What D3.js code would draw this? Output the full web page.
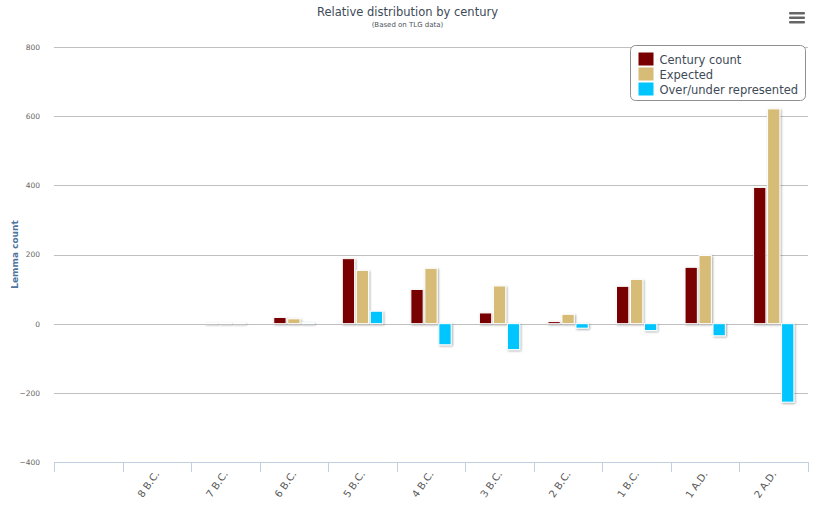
<!DOCTYPE html>
<html>
<head>
<meta charset="utf-8">
<script src="https://cdn.jsdelivr.net/npm/d3@7"></script>
<style>
  body { margin: 0; background: #fff; }
  text { font-family: "DejaVu Sans", "Lucida Grande", sans-serif; }
</style>
</head>
<body>
<script>
const width = 815;
const height = 511;
const margin = { top: 47, right: 7, bottom: 49, left: 54 };

const chartWidth = width - margin.left - margin.right;
const chartHeight = height - margin.top - margin.bottom;

// data
const categories = ["", "8 B.C.", "7 B.C.", "6 B.C.", "5 B.C.", "4 B.C.", "3 B.C.", "2 B.C.", "1 B.C.", "1 A.D.", "2 A.D."];
const centuryCount = [null, null, 2, 18, 188, 99, 31, 6, 108, 163, 394];
const expected = [null, null, 2, 14, 154, 160, 109, 27, 128, 197, 621];
const overUnder = [null, null, 1, 3, 36, -61, -75, -13, -20, -35, -227];
const yTicks = [-400, -200, 0, 200, 400, 600, 800];

const seriesNames = ["Century count", "Expected", "Over/under represented"];
const colors = ["#780000", "#d6bc76", "#00c5ff"];
const seriesValues = [centuryCount, expected, overUnder];

const data = categories.map((c, i) => ({
  cat: c,
  values: seriesValues.map((s, j) => ({ key: j, value: s[i] }))
}));

const svg = d3.select("body")
  .append("svg")
  .attr("width", width)
  .attr("height", height);

// bar shadow, in user space so very short bars still get one
const defs = svg.append("defs");
const shadow = defs.append("filter")
  .attr("id", "shadow")
  .attr("filterUnits", "userSpaceOnUse")
  .attr("x", -100).attr("y", -100)
  .attr("width", 1000).attr("height", 700);
shadow.append("feDropShadow")
  .attr("dx", 1).attr("dy", 1)
  .attr("stdDeviation", 1.1)
  .attr("flood-color", "#000")
  .attr("flood-opacity", 0.35);

// title
svg.append("text")
  .attr("x", width / 2)
  .attr("y", 16)
  .attr("text-anchor", "middle")
  .attr("fill", "#3e4a57")
  .style("font-size", "11.5px")
  .text("Relative distribution by century");

svg.append("text")
  .attr("x", width / 2)
  .attr("y", 27)
  .attr("text-anchor", "middle")
  .attr("fill", "#4d5560")
  .style("font-size", "7px")
  .text("(Based on TLG data)");

const g = svg.append("g")
  .attr("transform", `translate(${margin.left}, ${margin.top})`);

const x0 = d3.scaleBand()
  .domain(categories.map((c, i) => i))
  .range([0, chartWidth])
  .paddingInner(0.4)
  .paddingOuter(0.2);

const x1 = d3.scaleBand()
  .domain([0, 1, 2])
  .range([0, x0.bandwidth()])
  .paddingInner(0.12)
  .paddingOuter(0.03);

const y = d3.scaleLinear()
  .domain([-400, 800])
  .range([chartHeight, 0]);

// gridlines
g.append("g")
  .selectAll("line")
  .data(yTicks)
  .join("line")
    .attr("x1", 0)
    .attr("x2", chartWidth)
    .attr("y1", d => Math.round(y(d)) + 0.5)
    .attr("y2", d => Math.round(y(d)) + 0.5)
    .attr("stroke", "#c0c0c0")
    .attr("stroke-width", 1);

// y axis labels
const yAxis = d3.axisLeft(y)
  .tickValues(yTicks)
  .tickSize(0)
  .tickPadding(14)
  .tickFormat(d => d < 0 ? "\u2212" + Math.abs(d) : d);
g.append("g")
  .call(yAxis)
  .call(a => a.select(".domain").remove())
  .selectAll("text")
    .attr("fill", "#666")
    .style("font-size", "7.5px")
    .style("font-family", "'DejaVu Sans', sans-serif");

g.append("text")
  .attr("transform", `translate(-36, ${chartHeight / 2}) rotate(-90)`)
  .attr("text-anchor", "middle")
  .attr("fill", "#4d759e")
  .style("font-size", "9px")
  .style("font-weight", "bold")
  .text("Lemma count");

// x axis
const xStep = x0.step();
const xAxis = g.append("g")
  .attr("transform", `translate(0, ${chartHeight})`);
xAxis.append("line")
  .attr("x1", 0)
  .attr("x2", chartWidth)
  .attr("y1", 0.5)
  .attr("y2", 0.5)
  .attr("stroke", "#c0d0e0");
xAxis.selectAll(".tick")
  .data(d3.range(categories.length + 1))
  .join("line")
    .attr("class", "tick")
    .attr("x1", i => Math.round(i * xStep) + 0.5)
    .attr("x2", i => Math.round(i * xStep) + 0.5)
    .attr("y1", 0)
    .attr("y2", 10)
    .attr("stroke", "#c0d0e0");
xAxis.selectAll(".lab")
  .data(categories)
  .join("text")
    .attr("class", "lab")
    .attr("text-anchor", "end")
    .attr("transform", (d, i) => `translate(${x0(i) + x0.bandwidth() / 2 + 3}, 12) rotate(-55)`)
    .attr("fill", "#555")
    .style("font-size", "10px")
    .text(d => d);

// bars
const groups = g.selectAll(".group")
  .data(data)
  .join("g")
    .attr("class", "group")
    .attr("transform", (d, i) => `translate(${x0(i)}, 0)`);

groups.selectAll("rect")
  .data(d => d.values.filter(v => v.value !== null))
  .join("rect")
    .attr("x", d => x1(d.key))
    .attr("y", d => y(Math.max(0, d.value)))
    .attr("width", x1.bandwidth())
    .attr("height", d => Math.abs(y(d.value) - y(0)))
    .attr("fill", d => colors[d.key])
    .attr("stroke", "#fff")
    .attr("stroke-width", 1)
    .attr("filter", "url(#shadow)");

// legend
const legend = svg.append("g")
  .attr("transform", "translate(630.5, 45.5)");
legend.append("rect")
  .attr("width", 175)
  .attr("height", 55)
  .attr("rx", 5)
  .attr("fill", "#fff")
  .attr("stroke", "#909090");
const items = legend.selectAll(".item")
  .data(seriesNames)
  .join("g")
    .attr("class", "item")
    .attr("transform", (d, i) => `translate(8, ${7 + i * 15})`);
items.append("rect")
  .attr("width", 15)
  .attr("height", 13)
  .attr("fill", (d, i) => colors[i]);
items.append("text")
  .attr("x", 21)
  .attr("y", 11)
  .attr("fill", "#3e4a57")
  .style("font-size", "11.5px")
  .text(d => d);

// menu icon
svg.append("g")
  .selectAll("rect")
  .data([0, 1, 2])
  .join("rect")
    .attr("x", 789)
    .attr("y", i => 12 + i * 4.5)
    .attr("width", 16)
    .attr("height", 2.6)
    .attr("rx", 1)
    .attr("fill", "#666");
</script>
</body>
</html>
